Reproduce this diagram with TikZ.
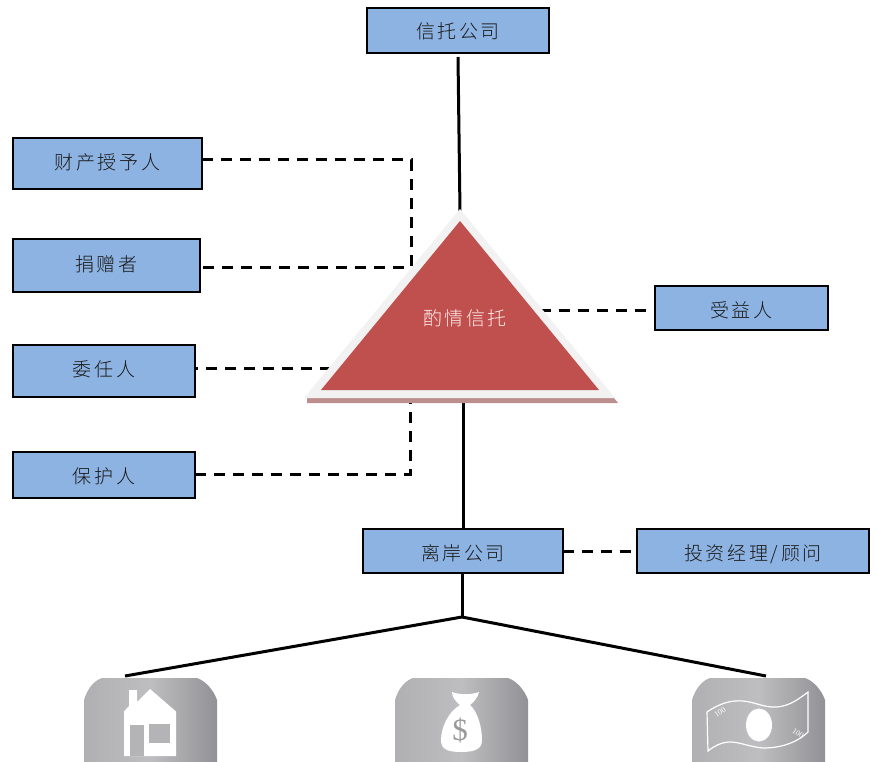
\documentclass[tikz,border=0pt]{standalone}
\usepackage{fontspec}
\setmainfont{Noto Sans CJK SC Light}[LetterSpace=14]
\newfontfamily\latinfont{Liberation Serif}
\definecolor{boxblue}{HTML}{8DB3E2}
\definecolor{trired}{HTML}{C0504D}
\definecolor{triedge}{HTML}{F2F2F2}
\definecolor{trishadow}{HTML}{BC8E8E}
\definecolor{icondark}{HTML}{929296}
\definecolor{iconmid}{HTML}{BEBEC0}
\definecolor{iconedge}{HTML}{B0B0B2}
\definecolor{icongray}{HTML}{B4B4B6}
\tikzset{
  box/.style={draw=black,line width=1.5pt,fill=boxblue,inner sep=0pt,outer sep=0pt,anchor=north west,font=\fontsize{19}{21}\selectfont,text=black!90},
  solidline/.style={draw=black,line width=3pt},
  dashline/.style={draw=black,line width=3pt,dash pattern=on 11pt off 8pt},
  iconbg/.style={left color=iconedge,right color=icondark,middle color=iconmid,draw=none},
}
\newcommand{\iconplate}[2]{%
  \path[iconbg] (#1+18,#2) -- (#1+113,#2) .. controls (#1+122,#2+3) and (#1+130,#2+13) .. (#1+133,#2+22)
   -- (#1+133,#2+100) -- (#1,#2+100) -- (#1,#2+22) .. controls (#1+3,#2+12) and (#1+9,#2+3) .. (#1+18,#2) -- cycle;}
\newcommand{\liftup}[2]{\raisebox{#1pt}[14pt][4pt]{#2}}
\begin{document}
\begin{tikzpicture}[x=1pt,y=-1pt]
\useasboundingbox (0,0) rectangle (877,762);
\clip (0,0) rectangle (877,762);
% boxes
\node[box,minimum width=182pt,minimum height=45pt] (trustco) at (367,8) {\liftup{-3.5}{信托公司}};
\node[box,minimum width=189pt,minimum height=51pt] (settlor) at (13,138) {\liftup{-0.5}{财产授予人}};
\node[box,minimum width=187pt,minimum height=53pt] (donor) at (13,239) {\liftup{-0.5}{捐赠者}};
\node[box,minimum width=182pt,minimum height=52pt] (mandator) at (13,345) {\liftup{0}{委任人}};
\node[box,minimum width=182pt,minimum height=46pt] (protector) at (13,452) {\liftup{-3}{保护人}};
\node[box,minimum width=173pt,minimum height=44pt] (benef) at (655,286) {\liftup{-4}{受益人}};
\node[box,minimum width=200pt,minimum height=44pt] (offshore) at (363,529) {\liftup{-4}{离岸公司}};
\node[box,minimum width=232pt,minimum height=44pt] (advisor) at (637,529) {\liftup{-4.5}{投资经理/顾问}};
% free ends
\coordinate (topend) at (460,212);
\coordinate (bottomstart) at (463,398);
\coordinate (elbowA) at (411,160);
\coordinate (elbowB) at (411,267);
\coordinate (mandEnd) at (335,368);
\coordinate (protEnd) at (410,400);
\coordinate (protElbow) at (410,474);
\coordinate (benefEnd) at (540,310);
\coordinate (fork) at (462,617);
\coordinate (leftEnd) at (125,676);
\coordinate (rightEnd) at (766,676);
% connectors
\draw[solidline] ([yshift=-4pt]trustco.south) -- (topend);
\draw[solidline] (bottomstart) -- (bottomstart |- offshore.north);
\draw[dashline] (settlor.east |- elbowA) -- (elbowA) -- (elbowB) -- (donor.east |- elbowB);
\draw[dashline,dash phase=8pt] (mandator.east |- mandEnd) -- (mandEnd);
\draw[dashline] (protector.east |- protElbow) -- (protElbow) -- (protEnd);
\draw[dashline] (benefEnd) -- (benef.west |- benefEnd);
\draw[dashline] (offshore.east) -- (advisor.west);
\draw[solidline] (offshore.south -| fork) -- (fork);
\draw[solidline] (fork) -- (leftEnd);
\draw[solidline] (fork) -- (rightEnd);
% triangle
\fill[trishadow] (307,398) -- (614,398) -- (618,403) -- (307,403) -- cycle;
\fill[triedge] (460,209) -- (615,398) -- (304,398) -- cycle;
\fill[trired] (460,221) -- (599,390) -- (321,390) -- cycle;
\node[text=red!8!white,font=\fontsize{19}{21}\selectfont,inner sep=0pt] (trust) at (465,318) {酌情信托};
% icon 1: house
\iconplate{84}{678}
\fill[white] (129,690) -- (137,690) -- (137,702) -- (150,689) -- (176,711.5) -- (176,756) -- (124,756) -- (124,711.5) -- (129,706) -- cycle;
\fill[icongray] (130,725) rectangle (144,756);
\fill[icongray] (149,724) rectangle (170,743);
% icon 2: bag
\iconplate{395}{678}
\fill[white] (452,692) .. controls (460,695) and (470,695) .. (479,692) .. controls (478,697) and (474,702) .. (470,705)
  .. controls (478,712) and (482,728) .. (482,740) .. controls (482,749) and (475,752) .. (461,752)
  .. controls (447,752) and (441,749) .. (441,740) .. controls (441,728) and (448,712) .. (460,705)
  .. controls (456,702) and (452,697) .. (452,692) -- cycle;
\node[text=icongray!85!black,inner sep=0pt,font=\latinfont\fontsize{31}{33}\selectfont] (dollar) at (460,730) {\$};
% icon 3: bill
\iconplate{692}{678}
\draw[white,line width=1.2pt] (707,712) .. controls (720,703) and (732,700) .. (743,701) .. controls (755,702) and (765,708) .. (777,707) .. controls (790,706) and (800,698) .. (808,692)
  -- (808,732) .. controls (800,740) and (785,748) .. (763,748) .. controls (750,747) and (740,742) .. (730,742) .. controls (722,742) and (714,746) .. (708,751) -- cycle;
\fill[white] (759,725) ellipse [x radius=13pt,y radius=16.5pt];
\node[text=white,rotate=32,inner sep=0pt,font=\latinfont\fontsize{8}{9}\selectfont] (billa) at (720,712) {100};
\node[text=white,rotate=-32,inner sep=0pt,font=\latinfont\fontsize{8}{9}\selectfont] (billb) at (798,733) {100};
\end{tikzpicture}
\end{document}
